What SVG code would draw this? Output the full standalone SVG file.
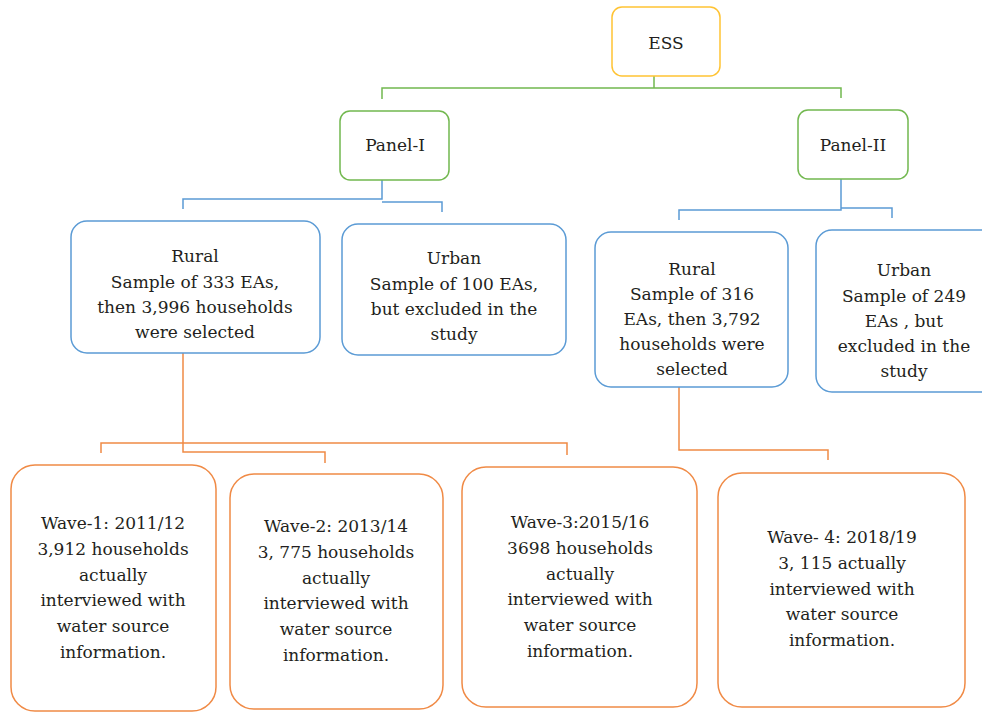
<svg xmlns="http://www.w3.org/2000/svg" width="982" height="712" viewBox="0 0 982 712">
<style>
.box{fill:#fff;stroke-width:1.5}
.y{stroke:#FFC333}
.g{stroke:#72B84F}
.b{stroke:#5B9BD5}
.o{stroke:#F08A45}
.c{fill:none;stroke-width:1.5}
text{font-family:'DejaVu Serif';font-size:17px;fill:#231F20;text-anchor:middle}
</style>
<rect width="982" height="712" fill="#fff"/>
<g id="connectors">
<path class="c g" d="M654 76V88H382V99M654 88H841V98"/>
<path class="c b" d="M382 180V199H183V209M382 202H442V212"/>
<path class="c b" d="M841 179V210H679V220M841 208H892V218"/>
<path class="c o" d="M183 353V452H325V463M101 453V443H567V455"/>
<path class="c o" d="M679 387V450H828V460"/>
</g>
<g id="ess"><rect class="box y" x="612" y="7" width="108" height="69" rx="10"/><text x="666" y="49">ESS</text></g>
<g id="panel1"><rect class="box g" x="340" y="111" width="109" height="69" rx="10"/><text x="395" y="151">Panel-I</text></g>
<g id="panel2"><rect class="box g" x="798" y="110" width="110" height="69" rx="10"/><text x="853" y="151">Panel-II</text></g>
<g id="rural1"><rect class="box b" x="71" y="221" width="249" height="132" rx="16"/>
<text x="195"><tspan x="195" y="262">Rural</tspan><tspan x="195" y="288">Sample of 333 EAs,</tspan><tspan x="195" y="313">then 3,996 households</tspan><tspan x="195" y="338">were selected</tspan></text></g>
<g id="urban1"><rect class="box b" x="342" y="224" width="224" height="131" rx="16"/>
<text x="454"><tspan x="454" y="264">Urban</tspan><tspan x="454" y="290">Sample of 100 EAs,</tspan><tspan x="454" y="315">but excluded in the</tspan><tspan x="454" y="340">study</tspan></text></g>
<g id="rural2"><rect class="box b" x="595" y="232" width="193" height="155" rx="16"/>
<text x="692"><tspan x="692" y="275">Rural</tspan><tspan x="692" y="300">Sample of 316</tspan><tspan x="692" y="325">EAs, then 3,792</tspan><tspan x="692" y="350">households were</tspan><tspan x="692" y="375">selected</tspan></text></g>
<g id="urban2"><rect class="box b" x="816" y="230" width="180" height="162" rx="16"/>
<text x="904"><tspan x="904" y="276">Urban</tspan><tspan x="904" y="302">Sample of 249</tspan><tspan x="904" y="327">EAs , but</tspan><tspan x="904" y="352">excluded in the</tspan><tspan x="904" y="377">study</tspan></text></g>
<g id="wave1"><rect class="box o" x="11" y="465" width="205" height="246" rx="24"/>
<text x="113"><tspan x="113" y="529">Wave-1: 2011/12</tspan><tspan x="113" y="555">3,912 households</tspan><tspan x="113" y="581">actually</tspan><tspan x="113" y="606">interviewed with</tspan><tspan x="113" y="632">water source</tspan><tspan x="113" y="658">information.</tspan></text></g>
<g id="wave2"><rect class="box o" x="230" y="474" width="213" height="235" rx="24"/>
<text x="336"><tspan x="336" y="532">Wave-2: 2013/14</tspan><tspan x="336" y="558">3, 775 households</tspan><tspan x="336" y="584">actually</tspan><tspan x="336" y="609">interviewed with</tspan><tspan x="336" y="635">water source</tspan><tspan x="336" y="661">information.</tspan></text></g>
<g id="wave3"><rect class="box o" x="462" y="467" width="235" height="240" rx="24"/>
<text x="580"><tspan x="580" y="528">Wave-3:2015/16</tspan><tspan x="580" y="554">3698 households</tspan><tspan x="580" y="580">actually</tspan><tspan x="580" y="605">interviewed with</tspan><tspan x="580" y="631">water source</tspan><tspan x="580" y="657">information.</tspan></text></g>
<g id="wave4"><rect class="box o" x="718" y="473" width="247" height="234" rx="24"/>
<text x="842"><tspan x="842" y="543">Wave- 4: 2018/19</tspan><tspan x="842" y="569">3, 115 actually</tspan><tspan x="842" y="595">interviewed with</tspan><tspan x="842" y="620">water source</tspan><tspan x="842" y="646">information.</tspan></text></g>
</svg>
